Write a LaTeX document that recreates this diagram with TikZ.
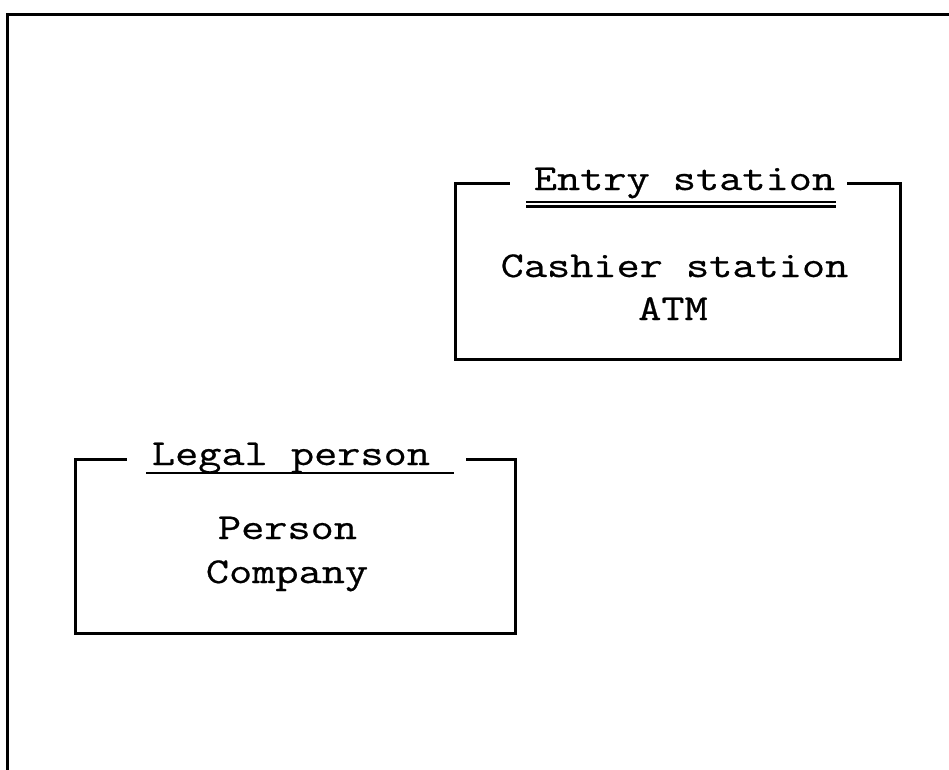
\documentclass[tikz,border=0pt]{standalone}
\usepackage{fontspec}
\newfontfamily\reffont{Latin Modern Mono}[FakeStretch=1.233,FakeBold=0.6]
\begin{document}
\begin{tikzpicture}[x=1pt,y=-1pt,
  frame/.style={line width=3pt,line cap=rect},
  uline/.style={line width=2.2pt},
  txt/.style={font=\reffont\fontsize{36.5}{43}\selectfont,inner sep=0pt,anchor=base}]
\useasboundingbox (0,0) rectangle (949,769);
% outer frame
\draw[frame] (7,769) -- (7,14) -- (949,14);
% Entry station box
\node[txt] (t1) at (684.5,190) {Entry station};
\node[txt] (c1) at (674.5,277) {Cashier station};
\node[txt] (a1) at (673,320) {ATM};
\draw[frame] (508,183) -- (455,183) -- (455,359) -- (900,359) -- (900,183) -- (848,183);
\draw[uline] (526,202) -- (836,202);
\draw[uline] (526,206.5) -- (836,206.5);
% Legal person box
\node[txt] (t2) at (291,465) {Legal person};
\node[txt] (p2) at (287.5,539) {Person};
\node[txt] (q2) at (287,583) {Company};
\draw[frame] (125,459) -- (75,459) -- (75,633) -- (515,633) -- (515,459) -- (467,459);
\draw[uline] (146,473) -- (454,473);
\end{tikzpicture}
\end{document}
